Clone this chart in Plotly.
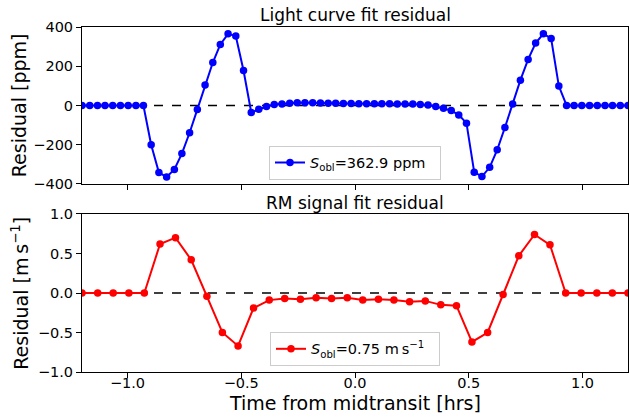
import plotly.graph_objects as go

# ---- data ----
lc_time = [-1.200, -1.166, -1.132, -1.099, -1.065, -1.031, -0.997, -0.963, -0.930, -0.896,
           -0.862, -0.828, -0.794, -0.761, -0.727, -0.693, -0.659, -0.625, -0.592, -0.558,
           -0.524, -0.490, -0.456, -0.423, -0.389, -0.355, -0.321, -0.287, -0.254, -0.220,
           -0.186, -0.152, -0.118, -0.085, -0.051, -0.017, 0.017, 0.051, 0.085, 0.118,
           0.152, 0.186, 0.220, 0.254, 0.287, 0.321, 0.355, 0.389, 0.423, 0.456,
           0.490, 0.524, 0.558, 0.592, 0.625, 0.659, 0.693, 0.727, 0.761, 0.794,
           0.828, 0.862, 0.896, 0.930, 0.963, 0.997, 1.031, 1.065, 1.099, 1.132,
           1.166, 1.200]
lc_resid = [0, 0, 0, 0, 0, 0, 0, 0, 0, -200,
            -342, -364, -326, -245, -139, -20, 105, 219, 311, 365,
            354, 178, -36, -19, -5, 5, 8, 12, 14, 14,
            14, 13, 12, 11, 10, 10, 9, 9, 9, 9,
            9, 8, 8, 7, 5, 2, -5, -14, -26, -48,
            -90, -340, -362, -315, -226, -112, 8, 129, 235, 318,
            365, 342, 99, 0, 0, 0, 0, 0, 0, 0,
            0, 0]

rm_time = [-1.200, -1.131, -1.063, -0.994, -0.926, -0.857, -0.789, -0.720, -0.651, -0.583,
           -0.514, -0.446, -0.377, -0.309, -0.240, -0.171, -0.103, -0.034, 0.034, 0.103,
           0.171, 0.240, 0.309, 0.377, 0.446, 0.514, 0.583, 0.651, 0.720, 0.789,
           0.857, 0.926, 0.994, 1.063, 1.131, 1.200]
rm_resid = [0, 0, 0, 0, 0, 0.62, 0.70, 0.42, -0.04, -0.50,
            -0.67, -0.19, -0.09, -0.07, -0.08, -0.06, -0.07, -0.06, -0.09, -0.08,
            -0.09, -0.11, -0.10, -0.15, -0.16, -0.62, -0.50, -0.02, 0.47, 0.74,
            0.61, 0, 0, 0, 0, 0]

x_ticks = [-1.0, -0.5, 0.0, 0.5, 1.0]
lc_ticks = [-400, -200, 0, 200, 400]
rm_ticks = [-1.0, -0.5, 0.0, 0.5, 1.0]

lc_label = "<i>S</i><sub>obl</sub>=362.9 ppm  "
rm_label = "<i>S</i><sub>obl</sub>=0.75 m\u2009s<sup>−1</sup>  "

FONT = "DejaVu Sans"

fig = go.Figure()
fig.add_trace(go.Scatter(x=lc_time, y=lc_resid, mode="lines+markers", name=lc_label,
                         line=dict(color="#0000ff", width=2),
                         marker=dict(color="#0000ff", size=7.5),
                         xaxis="x", yaxis="y", legend="legend"))
fig.add_trace(go.Scatter(x=rm_time, y=rm_resid, mode="lines+markers", name=rm_label,
                         line=dict(color="#ff0000", width=2),
                         marker=dict(color="#ff0000", size=7.5),
                         xaxis="x2", yaxis="y2", legend="legend2"))

for yr in ["y", "y2"]:
    fig.add_shape(type="line", xref="x domain" if yr == "y" else "x2 domain", yref=yr,
                  x0=0, x1=1, y0=0, y1=0, layer="below",
                  line=dict(color="black", width=1.5, dash="dash"))

axis_common = dict(showline=True, mirror=True, linecolor="black", linewidth=1,
                   ticks="outside", ticklen=5, tickwidth=1, tickcolor="black",
                   showgrid=False, zeroline=False,
                   tickfont=dict(family=FONT, size=14.5, color="black"))

fig.update_layout(
    width=629, height=418,
    margin=dict(l=82, r=1, t=27, b=46),
    plot_bgcolor="white", paper_bgcolor="white",
    font=dict(family=FONT, color="black"),
    xaxis=dict(domain=[0, 1], range=[-1.2, 1.2], tickvals=x_ticks, showticklabels=False,
               anchor="y", **axis_common),
    yaxis=dict(domain=[0.545, 1], range=[-400, 400], tickvals=lc_ticks, anchor="x",
               **axis_common),
    xaxis2=dict(domain=[0, 1], range=[-1.2, 1.2], tickvals=x_ticks, tickformat=".1f",
                anchor="y2", ticklabelstandoff=-7, **axis_common),
    yaxis2=dict(domain=[0, 0.458], range=[-1, 1], tickvals=rm_ticks, tickformat=".1f",
                anchor="x2", **axis_common),
    legend=dict(x=0.5, y=0.607, xanchor="center", yanchor="middle",
                bgcolor="white", bordercolor="#cccccc", borderwidth=1,
                font=dict(family=FONT, size=14.5, color="black")),
    legend2=dict(x=0.5, y=0.067, xanchor="center", yanchor="middle",
                 bgcolor="white", bordercolor="#cccccc", borderwidth=1,
                 font=dict(family=FONT, size=14.5, color="black")),
    showlegend=True,
)

annos = [
    dict(text="Light curve fit residual", x=0.5, y=1.0348, xref="paper", yref="paper",
         xanchor="center", yanchor="middle", showarrow=False, font=dict(size=17)),
    dict(text="RM signal fit residual", x=0.5, y=0.4899, xref="paper", yref="paper",
         xanchor="center", yanchor="middle", showarrow=False, font=dict(size=17)),
    dict(text="Residual [ppm]", x=-0.114, y=0.7725, xref="paper", yref="paper",
         xanchor="center", yanchor="middle", textangle=-90, showarrow=False,
         font=dict(size=19)),
    dict(text="Residual [m\u2009s<sup>−1</sup>]", x=-0.114, y=0.229, xref="paper", yref="paper",
         xanchor="center", yanchor="middle", textangle=-90, showarrow=False,
         font=dict(size=19)),
    dict(text="Time from midtransit [hrs]", x=0.5, y=-0.0899, xref="paper", yref="paper",
         xanchor="center", yanchor="middle", showarrow=False, font=dict(size=19)),
]
fig.update_layout(annotations=annos)

fig.write_html("out.html")
